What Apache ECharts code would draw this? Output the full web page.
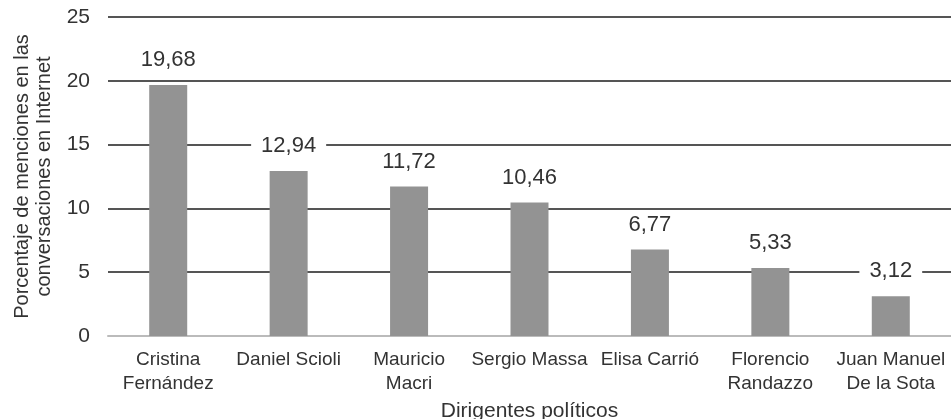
<!DOCTYPE html>
<html><head><meta charset="utf-8">
<script src="https://cdn.jsdelivr.net/npm/echarts@6/dist/echarts.min.js"></script>
<style>html,body{margin:0;padding:0;background:#fff}#c{width:951px;height:419px}</style>
</head><body><div id="c"></div>
<script>
const categories = ['Cristina\nFernández','Daniel Scioli','Mauricio\nMacri','Sergio Massa','Elisa Carrió','Florencio\nRandazzo','Juan Manuel\nDe la Sota'];
const values = [19.68, 12.94, 11.72, 10.46, 6.77, 5.33, 3.12];
const yTicks = [0, 5, 10, 15, 20, 25];
const chart = echarts.init(document.getElementById('c'));
const font = 'Liberation Sans, Arial, sans-serif';
chart.setOption({
  animation: false,
  grid: {left: 108, right: 0, top: 17, bottom: 83, containLabel: false, outerBoundsMode: 'none'},
  xAxis: {
    type: 'category', data: categories,
    name: 'Dirigentes políticos', nameLocation: 'middle', nameGap: 62,
    nameTextStyle: {fontFamily: font, fontSize: 21, color: '#333'},
    axisLine: {lineStyle: {color: '#bbb', width: 2}},
    axisTick: {show: false},
    axisLabel: {fontFamily: font, fontSize: 19, color: '#333', lineHeight: 24, margin: 12, interval: 0}
  },
  yAxis: {
    type: 'value', min: yTicks[0], max: yTicks[yTicks.length-1], interval: 5,
    name: 'Porcentaje de menciones en las\nconversaciones en Internet',
    nameLocation: 'middle', nameGap: 53, nameRotate: 90,
    nameTextStyle: {fontFamily: font, fontSize: 20, color: '#333', lineHeight: 22},
    axisLine: {show: false}, axisTick: {show: false},
    axisLabel: {fontFamily: font, fontSize: 21, color: '#333', margin: 18},
    splitLine: {lineStyle: {color: '#555', width: 2}}
  },
  series: [{
    type: 'bar', data: values, barWidth: 38,
    itemStyle: {color: '#939393'},
    label: {show: true, position: 'top', distance: 12, fontFamily: font, fontSize: 22, color: '#333',
      backgroundColor: '#fff', padding: [2, 10],
      formatter: p => p.value.toFixed(2).replace('.', ',')}
  }]
});
</script></body></html>
